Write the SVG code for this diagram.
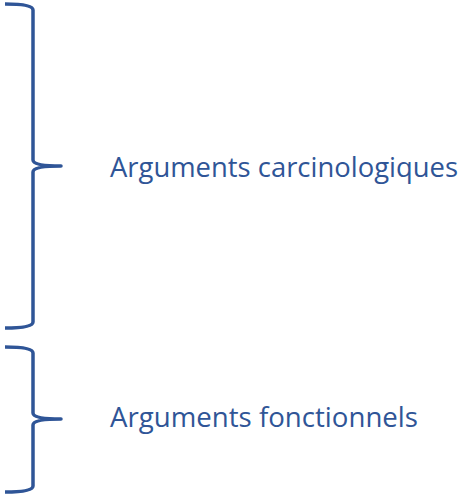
<svg xmlns="http://www.w3.org/2000/svg" width="462" height="495" viewBox="0 0 462 495">
<style>
.brace{fill:none;stroke:#2F5597;stroke-width:3.5;stroke-linecap:butt;stroke-linejoin:round}
.lbl{font-family:"Open Sans","Noto Sans","Liberation Sans",sans-serif;font-size:27px;fill:#2F5597}
</style>
<rect width="462" height="495" fill="#ffffff"/>
<g id="brace1">
<path class="brace" d="M5,4 Q33,4 33,10 L33,160 Q33,166 61,166 Q33,166 33,172 L33,322 Q33,328 5,328"/>
<text class="lbl" x="110" y="177" textLength="348" lengthAdjust="spacingAndGlyphs">Arguments carcinologiques</text>
</g>
<g id="brace2">
<path class="brace" d="M5,347 Q33,347 33,353 L33,413 Q33,419 61,419 Q33,419 33,425 L33,486 Q33,492 5,492"/>
<text class="lbl" x="110" y="427" textLength="308" lengthAdjust="spacingAndGlyphs">Arguments fonctionnels</text>
</g>
</svg>
